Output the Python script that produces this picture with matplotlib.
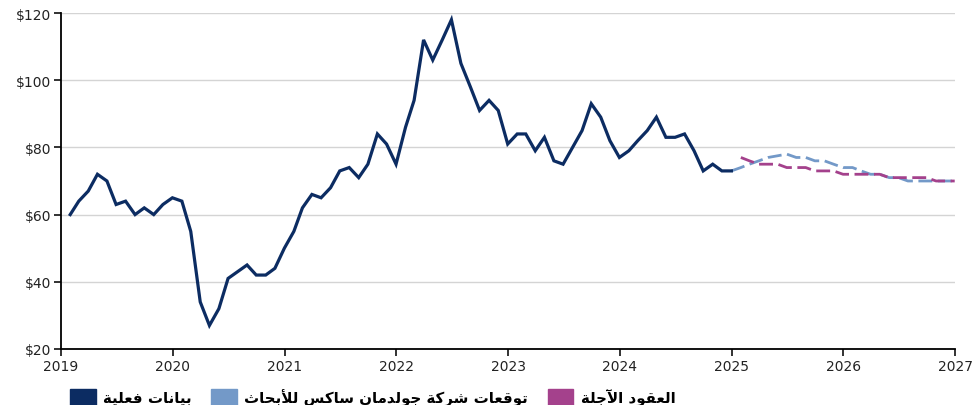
# Oil price: actual data, Goldman Sachs forecast, futures curve

import pandas as pd
import matplotlib.pyplot as plt
import matplotlib.dates as mdates
from matplotlib.patches import Patch

# Monthly values (USD per barrel)
actual = [60, 64, 67, 72, 70, 63, 64, 60, 62, 60, 63, 65,
          64, 55, 34, 27, 32, 41, 43, 45, 42, 42, 44, 50,
          55, 62, 66, 65, 68, 73, 74, 71, 75, 84, 81, 75,
          86, 94, 112, 106, 112, 118, 105, 98, 91, 94, 91, 81,
          84, 84, 79, 83, 76, 75, 80, 85, 93, 89, 82, 77,
          79, 82, 85, 89, 83, 83, 84, 79, 73, 75, 73, 73]
gs_forecast = [73, 74, 75, 76, 77, 77.5, 78, 77, 77, 76, 76, 75, 74,
               74, 73, 72, 72, 71, 71, 70, 70, 70, 70, 70, 70]
futures = [77, 76, 75, 75, 75, 74, 74, 74, 73, 73, 73, 72,
           72, 72, 72, 72, 71, 71, 71, 71, 71, 70, 70, 70]

actual_dates = pd.date_range('2019-01-31', periods=len(actual), freq='ME')
gs_dates = pd.date_range('2024-12-31', periods=len(gs_forecast), freq='ME')
fut_dates = pd.date_range('2025-01-31', periods=len(futures), freq='ME')

labels = ['بيانات فعلية', 'توقعات شركة جولدمان ساكس للأبحاث', 'العقود الآجلة']
colors = ['#0c2c62', '#7399c8', '#a4418c']

# Minimal Arabic shaping (matplotlib has no complex text layout)
FORMS = {
    'ا': (0xFE8D, 0xFE8E, None, None), 'أ': (0xFE83, 0xFE84, None, None),
    'آ': (0xFE81, 0xFE82, None, None), 'ة': (0xFE93, 0xFE94, None, None),
    'د': (0xFEA9, 0xFEAA, None, None), 'ر': (0xFEAD, 0xFEAE, None, None),
    'و': (0xFEED, 0xFEEE, None, None),
    'ب': (0xFE8F, 0xFE90, 0xFE91, 0xFE92), 'ت': (0xFE95, 0xFE96, 0xFE97, 0xFE98),
    'ث': (0xFE99, 0xFE9A, 0xFE9B, 0xFE9C), 'ج': (0xFE9D, 0xFE9E, 0xFE9F, 0xFEA0),
    'ح': (0xFEA1, 0xFEA2, 0xFEA3, 0xFEA4), 'س': (0xFEB1, 0xFEB2, 0xFEB3, 0xFEB4),
    'ش': (0xFEB5, 0xFEB6, 0xFEB7, 0xFEB8), 'ع': (0xFEC9, 0xFECA, 0xFECB, 0xFECC),
    'ف': (0xFED1, 0xFED2, 0xFED3, 0xFED4), 'ق': (0xFED5, 0xFED6, 0xFED7, 0xFED8),
    'ك': (0xFED9, 0xFEDA, 0xFEDB, 0xFEDC), 'ل': (0xFEDD, 0xFEDE, 0xFEDF, 0xFEE0),
    'م': (0xFEE1, 0xFEE2, 0xFEE3, 0xFEE4), 'ن': (0xFEE5, 0xFEE6, 0xFEE7, 0xFEE8),
    'ي': (0xFEF1, 0xFEF2, 0xFEF3, 0xFEF4),
}
LAM_ALEF = {'ا': (0xFEFB, 0xFEFC), 'أ': (0xFEF7, 0xFEF8), 'آ': (0xFEF5, 0xFEF6)}


def dual(c):
    return c in FORMS and FORMS[c][2] is not None


def shape(text):
    res = []
    i = 0
    while i < len(text):
        c = text[i]
        if c not in FORMS:
            res.append(c)
            i += 1
            continue
        link_prev = i > 0 and dual(text[i - 1])
        if c == 'ل' and i + 1 < len(text) and text[i + 1] in LAM_ALEF:
            iso, fin = LAM_ALEF[text[i + 1]]
            res.append(chr(fin if link_prev else iso))
            i += 2
            continue
        link_next = dual(c) and i + 1 < len(text) and text[i + 1] in FORMS
        f = FORMS[c]
        if link_prev and link_next:
            g = f[3]
        elif link_prev:
            g = f[1]
        elif link_next:
            g = f[2]
        else:
            g = f[0]
        res.append(chr(g))
        i += 1
    return ''.join(reversed(res))


plt.rcParams['font.family'] = ['DejaVu Sans']

fig = plt.figure(figsize=(9.78, 4.06), dpi=100)
ax = fig.add_axes([0.0624, 0.138, 0.9141, 0.8275])

ax.plot(actual_dates, actual, color=colors[0], lw=2.3, zorder=4,
        solid_joinstyle='miter')
ax.plot(gs_dates, gs_forecast, color=colors[1], lw=2.0, dashes=(5, 2), zorder=3)
ax.plot(fut_dates, futures, color=colors[2], lw=2.0, dashes=(5, 2), zorder=3)

ax.set_ylim(20, 120)
ax.set_yticks(range(20, 121, 20))
ax.yaxis.set_major_formatter(lambda v, p: f'${v:.0f}')
ax.set_xlim(pd.Timestamp('2019-01-01'), pd.Timestamp('2027-01-01'))
ax.xaxis.set_major_locator(mdates.YearLocator())
ax.xaxis.set_major_formatter(mdates.DateFormatter('%Y'))

ax.grid(axis='y', color='#d4d4d4', lw=1)
ax.set_axisbelow(True)
for s in ['top', 'right']:
    ax.spines[s].set_visible(False)
for s in ['left', 'bottom']:
    ax.spines[s].set_linewidth(1.3)
ax.tick_params(length=5, width=1.3, labelsize=10, colors='#222222', pad=2)

handles = [Patch(color=c) for c in colors]
fig.legend(handles, [shape(t) for t in labels], loc='lower left',
           bbox_to_anchor=(0.058, -0.035), ncol=3, frameon=False,
           prop={'weight': 'bold', 'size': 10.8}, handlelength=1.7,
           handleheight=1.3, handletextpad=0.5, columnspacing=1.3)

fig.savefig('out.png', dpi=100)
